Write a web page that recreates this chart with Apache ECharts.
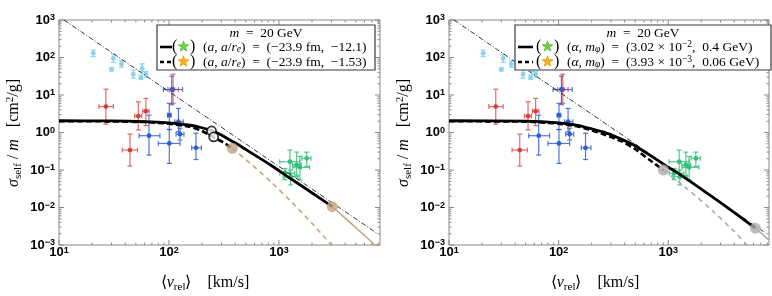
<!DOCTYPE html>
<html><head><meta charset="utf-8">
<script src="https://cdn.jsdelivr.net/npm/echarts@6/dist/echarts.min.js"></script>
<style>html,body{margin:0;padding:0;background:#fff}#c{width:772px;height:296px}</style>
</head><body><div id="c"></div>
<script>
// ---- axis ranges & ticks ----
const xMin = 10, xMax = 8300, yMin = 0.001, yMax = 1000;
const xMajorTicks = [10, 100, 1000];
const xMinorTicks = [20,30,40,50,60,70,80,90,200,300,400,500,600,700,800,900,2000,3000,4000,5000,6000,7000,8000];
const yMajorTicks = [0.001,0.01,0.1,1,10,100,1000];
const yMinorTicks = [0.002,0.003,0.004,0.005,0.006,0.007,0.008,0.009,
  0.02,0.03,0.04,0.05,0.06,0.07,0.08,0.09,
  0.2,0.3,0.4,0.5,0.6,0.7,0.8,0.9,
  2,3,4,5,6,7,8,9,
  20,30,40,50,60,70,80,90,
  200,300,400,500,600,700,800,900];

// ---- observational data: [v, sigma/m, vLow, vHigh, sLow, sHigh] ----
const cyanPoints = [
  [20.5,129,20.5,20.5,105,158],
  [30,48,30,30,44,53],
  [31.2,95,31.2,31.2,74,122],
  [37,67,37,37,55,82],
  [47.4,36,47.4,47.4,28,46],
  [55.6,29,55.6,55.6,26,34],
  [57,51,57,57,42,68],
  [61.7,36,61.7,61.7,30,42]
];
const redPoints = [
  [26.7,4.9,23.1,31.2,1.67,14.3],
  [52.6,2.75,48.8,56.6,1.17,6.6],
  [61.7,3.7,57.7,66,1.53,8.1],
  [109,14,98,122,6,36],
  [44.2,0.34,37.6,51.8,0.128,0.91]
];
const bluePoints = [
  [65.8,0.82,53.4,82.7,0.25,2.9],
  [100.7,0.51,80,126,0.15,1.2],
  [100.7,2.9,97,104.5,1.2,6.0],
  [106,14,89,133,5.5,32],
  [122,1.94,113,135,1.04,4.4],
  [126,0.9,116,137,0.63,1.3],
  [176,0.39,161,197,0.19,0.96]
];
const greenPoints = [
  [1259,0.166,1018,1549,0.08,0.34],
  [1449,0.136,1330,1600,0.07,0.30],
  [1786,0.205,1616,1960,0.124,0.30],
  [1552,0.118,1340,1900,0.055,0.23],
  [1135,0.082,1020,1390,0.055,0.11],
  [1276,0.066,1092,1490,0.04,0.1]
];

// ---- reference v^-2 line (dash-dot) ----
const unitarityLine = [[11.1,1000],[7700,0.0021]];

// ---- left panel curves ----
const leftSolid = [[10,2.06],[30,2.04],[60,1.96],[100,1.8],[155,1.56],[191,1.38],[244,1.12],[300,0.86],[359,0.63],[450,0.43],[545,0.30],[828,0.14],[1180,0.069],[1914,0.0267],[3055,0.0105]];
const leftSolidTail = [[3055,0.0105],[4000,0.0052],[5000,0.0029],[6000,0.0018],[7470,0.001],[8300,0.00075]];
const leftDashed = [[10,2.0],[30,1.98],[60,1.9],[100,1.72],[155,1.42],[200,1.1],[251,0.76],[310,0.55],[377,0.38]];
const leftDashedTail = [[377,0.38],[571,0.136],[869,0.0448],[1321,0.0135],[2009,0.00372],[2911,0.0011],[3390,0.00065]];
const leftOpenCircles = [[244,1.1],[255,0.76]];
const leftDots = [[377,0.38],[3055,0.0105]];

// ---- right panel curves ----
const rightSolid = [[10,2.06],[50,2.0],[100,1.8],[150,1.55],[190,1.3],[270,0.98],[350,0.72],[480,0.47],[700,0.235],[1000,0.118],[1250,0.08],[2000,0.031],[3000,0.0135],[4500,0.0057],[6240,0.0028]];
const rightSolidTail = [[6240,0.0028],[7000,0.0021],[8300,0.00135]];
const rightDashed = [[10,2.0],[50,1.95],[100,1.72],[150,1.45],[190,1.2],[270,0.85],[382,0.57],[500,0.36],[668,0.19],[902,0.1]];
const rightDashedTail = [[902,0.1],[1500,0.031],[2500,0.0085],[4000,0.0023],[5060,0.0011],[5600,0.00075]];
const rightDots = [[902,0.1],[6240,0.0028]];

// ---- styling ----
const SERIF = 'Liberation Serif';
const frameColor = '#8a8a8a';
const brown = '#c4a482';
const grayC = '#aeaeae';

function isPow10(v){ const l = Math.log10(v); return Math.abs(l - Math.round(l)) < 1e-6; }
function powLabel(v){
  if (!isPow10(v)) return '';
  const e = Math.round(Math.log10(v));
  return '{b|10}{s|' + (e < 0 ? '\u2212' + (-e) : e) + '}';
}
const labelRich = {
  b: {fontSize: 13, fontWeight: 'bold', fontFamily: 'Liberation Sans', color: '#000', lineHeight: 13, padding: [3,0,3,0]},
  s: {fontSize: 9, fontWeight: 'bold', fontFamily: 'Liberation Sans', color: '#000', lineHeight: 9, verticalAlign: 'top'}
};

function tickRenderX(params, api){
  const v = api.value(0);
  const len = isPow10(v) ? 5 : 2.5;
  const b = api.coord([v, yMin]), t = api.coord([v, yMax]);
  const st = {stroke: frameColor, lineWidth: 1};
  return {type: 'group', children: [
    {type: 'line', shape: {x1: b[0], y1: b[1], x2: b[0], y2: b[1] - len}, style: st},
    {type: 'line', shape: {x1: t[0], y1: t[1], x2: t[0], y2: t[1] + len}, style: st}
  ]};
}
function tickRenderY(params, api){
  const v = api.value(1);
  const len = isPow10(v) ? 5 : 2.5;
  const l = api.coord([xMin, v]), r = api.coord([xMax, v]);
  const st = {stroke: frameColor, lineWidth: 1};
  return {type: 'group', children: [
    {type: 'line', shape: {x1: l[0], y1: l[1], x2: l[0] + len, y2: l[1]}, style: st},
    {type: 'line', shape: {x1: r[0], y1: r[1], x2: r[0] - len, y2: r[1]}, style: st}
  ]};
}
function errRender(color, barColor){
  return function(params, api){
    const v = api.value(0), s = api.value(1), vl = api.value(2), vh = api.value(3), sl = api.value(4), sh = api.value(5);
    const c = api.coord([v, s]), l = api.coord([vl, s]), r = api.coord([vh, s]), t = api.coord([v, sh]), b = api.coord([v, sl]);
    const cap = 2.5, st = {stroke: barColor, lineWidth: 1.2};
    const ch = [];
    if (vh > vl) {
      ch.push({type: 'line', shape: {x1: l[0], y1: l[1], x2: r[0], y2: r[1]}, style: st});
      ch.push({type: 'line', shape: {x1: l[0], y1: l[1] - cap, x2: l[0], y2: l[1] + cap}, style: st});
      ch.push({type: 'line', shape: {x1: r[0], y1: r[1] - cap, x2: r[0], y2: r[1] + cap}, style: st});
    }
    ch.push({type: 'line', shape: {x1: t[0], y1: t[1], x2: b[0], y2: b[1]}, style: st});
    ch.push({type: 'line', shape: {x1: t[0] - cap, y1: t[1], x2: t[0] + cap, y2: t[1]}, style: st});
    ch.push({type: 'line', shape: {x1: b[0] - cap, y1: b[1], x2: b[0] + cap, y2: b[1]}, style: st});
    ch.push({type: 'circle', shape: {cx: c[0], cy: c[1], r: 2.4}, style: {fill: color}});
    return {type: 'group', children: ch};
  };
}

function lineSeries(g, data, color, width, type, z){
  return {type: 'line', xAxisIndex: g, yAxisIndex: g, data: data, showSymbol: false, smooth: 0.15,
    lineStyle: {color: color, width: width, type: type}, z: z || 5, silent: true, animation: false};
}

const series = [];
const xAxes = [], yAxes = [];
[0,1].forEach(function(g){
  xAxes.push({gridIndex: g, type: 'log', min: xMin, max: xMax,
    axisLine: {show: false}, axisTick: {show: false}, splitLine: {show: false},
    axisLabel: {formatter: powLabel, rich: labelRich, margin: 1}});
  yAxes.push({gridIndex: g, type: 'log', min: yMin, max: yMax,
    axisLine: {show: false}, axisTick: {show: false}, splitLine: {show: false},
    axisLabel: {formatter: powLabel, rich: labelRich, margin: 4}});
  series.push({type: 'custom', xAxisIndex: g, yAxisIndex: g, renderItem: tickRenderX, silent: true,
    data: xMajorTicks.concat(xMinorTicks).map(function(v){ return [v, 1]; }), z: 1, animation: false});
  series.push({type: 'custom', xAxisIndex: g, yAxisIndex: g, renderItem: tickRenderY, silent: true,
    data: yMajorTicks.concat(yMinorTicks).map(function(v){ return [10, v]; }), z: 1, animation: false});
  series.push({type: 'custom', xAxisIndex: g, yAxisIndex: g, renderItem: errRender('#8ad2f4', 'rgba(120,205,245,0.85)'), data: cyanPoints, z: 2, silent: true, animation: false});
  series.push({type: 'custom', xAxisIndex: g, yAxisIndex: g, renderItem: errRender('#dd3c3c', 'rgba(222,70,70,0.8)'), data: redPoints, z: 2, silent: true, animation: false});
  series.push({type: 'custom', xAxisIndex: g, yAxisIndex: g, renderItem: errRender('#2f5ed4', 'rgba(50,95,212,0.85)'), data: bluePoints, z: 2, silent: true, animation: false});
  series.push({type: 'custom', xAxisIndex: g, yAxisIndex: g, renderItem: errRender('#33c07a', 'rgba(55,192,122,0.85)'), data: greenPoints, z: 2, silent: true, animation: false});
  series.push({type: 'line', xAxisIndex: g, yAxisIndex: g, data: unitarityLine, showSymbol: false,
    lineStyle: {color: '#000', width: 0.8, type: [5,2,1,2]}, z: 4, silent: true, animation: false});
});
// left panel curves
series.push(lineSeries(0, leftSolidTail, brown, 1.5, 'solid'));
series.push(lineSeries(0, leftDashedTail, brown, 1.6, [5,4]));
series.push(lineSeries(0, leftDashed, '#000', 2.6, [6,3]));
series.push(lineSeries(0, leftSolid, '#000', 2.8, 'solid', 6));
series.push({type: 'scatter', xAxisIndex: 0, yAxisIndex: 0, data: leftDots, symbolSize: 11,
  itemStyle: {color: brown}, z: 8, silent: true, animation: false});
series.push({type: 'scatter', xAxisIndex: 0, yAxisIndex: 0, data: leftOpenCircles, symbolSize: 9,
  itemStyle: {color: '#fff', borderColor: '#000', borderWidth: 1.8}, z: 8, silent: true, animation: false});
// right panel curves
series.push(lineSeries(1, rightSolidTail, grayC, 1.5, 'solid'));
series.push(lineSeries(1, rightDashedTail, grayC, 1.6, [5,4]));
series.push(lineSeries(1, rightDashed, '#000', 2.6, [6,3]));
series.push(lineSeries(1, rightSolid, '#000', 2.8, 'solid', 6));
series.push({type: 'scatter', xAxisIndex: 1, yAxisIndex: 1, data: rightDots, symbolSize: 11,
  itemStyle: {color: grayC}, z: 8, silent: true, animation: false});

// ---- text helpers ----
const LF = 13.5;
const txtRich = {
  n: {fontFamily: SERIF, fontSize: LF, fill: '#000', lineHeight: 15},
  i: {fontFamily: SERIF, fontSize: LF, fontStyle: 'italic', fill: '#000', lineHeight: 15},
  sub: {fontFamily: SERIF, fontSize: 9.5, fontStyle: 'italic', fill: '#000', lineHeight: 9, verticalAlign: 'bottom'},
  sup: {fontFamily: SERIF, fontSize: 9.5, fill: '#000', lineHeight: 9, verticalAlign: 'top'},
  p: {fontFamily: SERIF, fontSize: 16, fill: '#000', lineHeight: 15},
  gs: {fontFamily: 'DejaVu Sans', fontSize: 14, fill: '#66d43a', stroke: '#3c9a22', lineWidth: 0.6, lineHeight: 15},
  os: {fontFamily: 'DejaVu Sans', fontSize: 14, fill: '#ffae00', stroke: '#c07a00', lineWidth: 0.6, lineHeight: 15}
};
const titleRich = {
  n: {fontFamily: SERIF, fontSize: 16, fill: '#000', lineHeight: 19},
  i: {fontFamily: SERIF, fontSize: 16, fontStyle: 'italic', fill: '#000', lineHeight: 19},
  sub: {fontFamily: SERIF, fontSize: 11, fill: '#000', lineHeight: 10, verticalAlign: 'bottom'},
  sup: {fontFamily: SERIF, fontSize: 11, fill: '#000', lineHeight: 10, verticalAlign: 'top'}
};
function txt(x, y, text, rich, align, rot){
  return {type: 'text', x: x, y: y, rotation: rot || 0, z: 20,
    style: {text: text, rich: rich, align: align || 'left', verticalAlign: 'middle'}};
}
function legendBox(x, w){
  return {type: 'rect', shape: {x: x, y: 25, width: w, height: 45}, style: {fill: '#fff', stroke: '#3a3a3a', lineWidth: 1.2}, z: 15};
}
function sample(x1, x2, y, dashed){
  return {type: 'line', shape: {x1: x1, y1: y, x2: x2, y2: y}, style: {stroke: '#000', lineWidth: 2.6, lineDash: dashed ? [4,3] : null}, z: 20};
}

const graphics = [
  // left legend
  legendBox(157, 218),
  txt(266, 33, '{i|m}{n|  =  20 GeV}', txtRich, 'center'),
  sample(160, 172, 47, false),
  txt(172, 47, '{p|(}{gs|\u2605}{p|)}', txtRich),
  txt(203, 47, '{n|(}{i|a}{n|, }{i|a}{n|/}{i|r}{sub|e}{n|)  =  (\u221223.9 fm,  \u221212.1)}', txtRich),
  sample(160, 172, 62, true),
  txt(172, 62, '{p|(}{os|\u2605}{p|)}', txtRich),
  txt(203, 62, '{n|(}{i|a}{n|, }{i|a}{n|/}{i|r}{sub|e}{n|)  =  (\u221223.9 fm,  \u22121.53)}', txtRich),
  // right legend
  legendBox(515, 256),
  txt(643, 33, '{i|m}{n|  =  20 GeV}', txtRich, 'center'),
  sample(518, 533, 47, false),
  txt(536, 47, '{p|(}{gs|\u2605}{p|)}', txtRich),
  txt(567, 47, '{n|(}{i|\u03b1}{n|, }{i|m}{sub|\u03c6}{n|)  =  (3.02 \u00d7 10}{sup|\u22122}{n|,  0.4 GeV)}', txtRich),
  sample(518, 533, 62, true),
  txt(536, 62, '{p|(}{os|\u2605}{p|)}', txtRich),
  txt(567, 62, '{n|(}{i|\u03b1}{n|, }{i|m}{sub|\u03c6}{n|)  =  (3.93 \u00d7 10}{sup|\u22123}{n|,  0.06 GeV)}', txtRich),
  // axis titles
  txt(205, 283, '{n|\u27e8}{i|v}{sub|rel}{n|\u27e9    [km/s]}', titleRich, 'center'),
  txt(595, 283, '{n|\u27e8}{i|v}{sub|rel}{n|\u27e9    [km/s]}', titleRich, 'center'),
  txt(14, 133, '{i|\u03c3}{sub|self}{n| / }{i|m}{n|   [cm}{sup|2}{n|/g]}', titleRich, 'center', Math.PI / 2),
  txt(404, 133, '{i|\u03c3}{sub|self}{n| / }{i|m}{n|   [cm}{sup|2}{n|/g]}', titleRich, 'center', Math.PI / 2)
];

const chart = echarts.init(document.getElementById('c'), null, {renderer: 'canvas'});
chart.setOption({
  animation: false,
  backgroundColor: '#fff',
  grid: [
    {left: 59, right: 392, top: 20, bottom: 51, show: true, borderColor: frameColor, borderWidth: 1, backgroundColor: 'transparent'},
    {left: 449, right: 2, top: 20, bottom: 51, show: true, borderColor: frameColor, borderWidth: 1, backgroundColor: 'transparent'}
  ],
  xAxis: xAxes,
  yAxis: yAxes,
  series: series,
  graphic: {elements: graphics}
});
</script>
</body></html>
